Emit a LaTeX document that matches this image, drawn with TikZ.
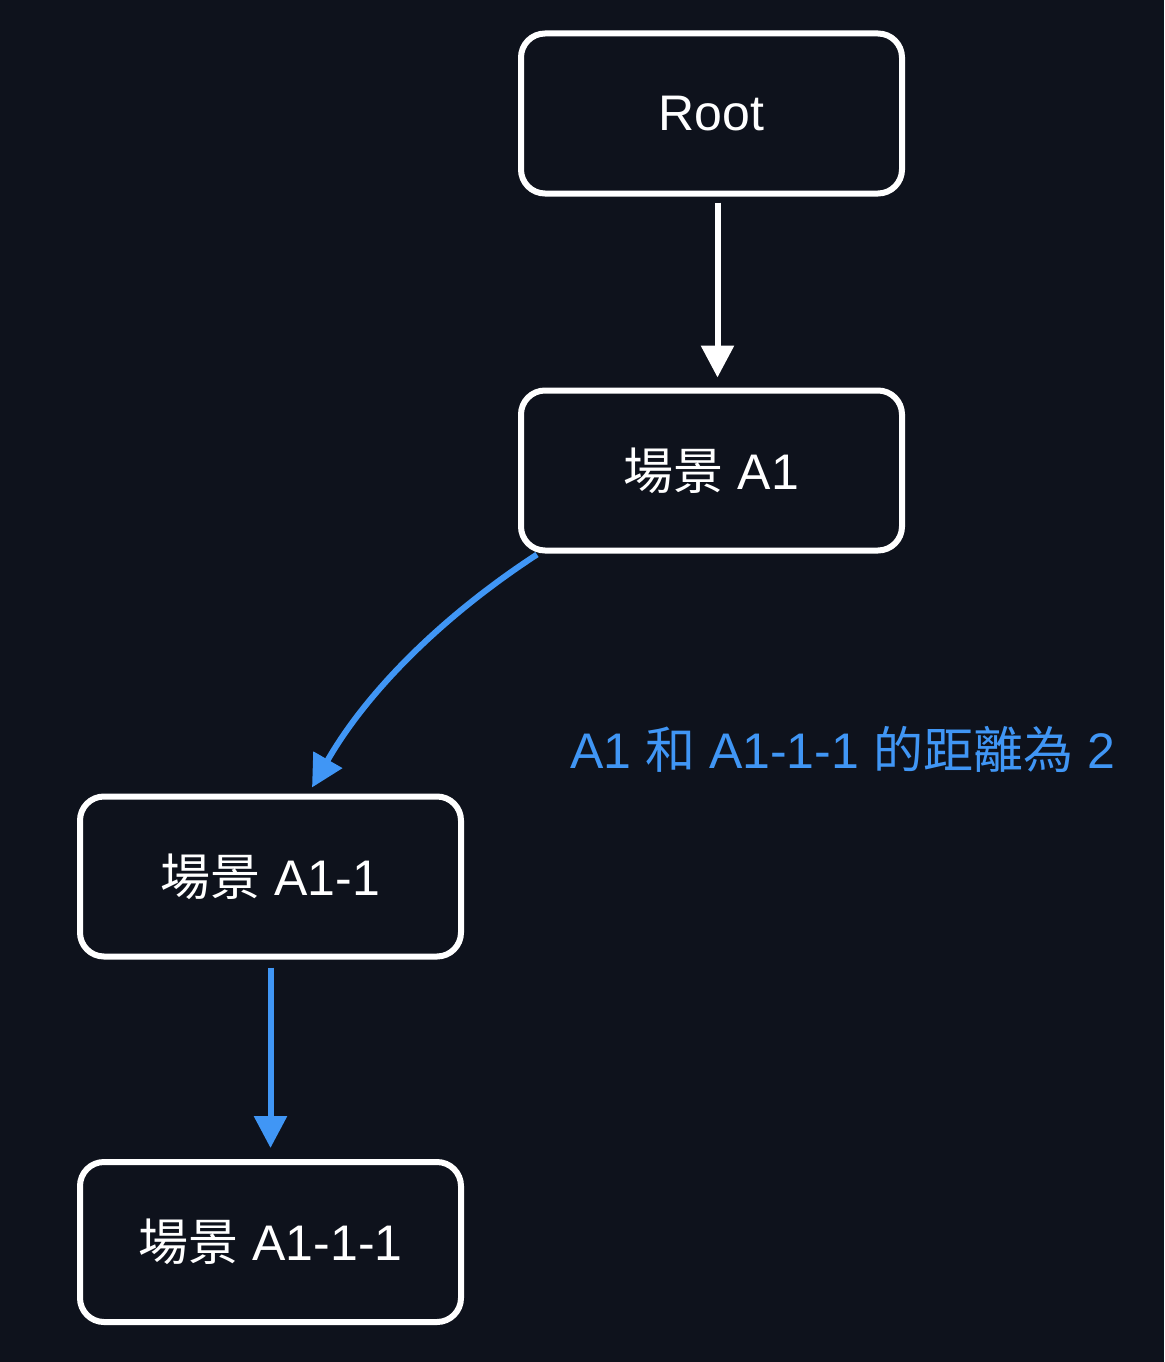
\documentclass[tikz,border=0pt]{standalone}
\usepackage{fontspec}
\setmainfont{Liberation Sans}
\newfontfamily\cjk{Noto Sans CJK TC}
\usetikzlibrary{arrows.meta,calc}
\definecolor{bgc}{RGB}{14,18,28}
\definecolor{accentblue}{RGB}{64,150,245}
\tikzset{
  scenebox/.style={draw=white, line width=6pt, rounded corners=24pt,
    minimum width=381pt, minimum height=160pt, inner sep=0pt,
    text=white, font=\fontsize{50}{60}\selectfont},
  whitearrow/.style={draw=white, line width=6pt,
    -{Triangle[length=32pt,width=32pt]}},
  bluearrow/.style={draw=accentblue, line width=6pt,
    -{Triangle[length=32pt,width=32pt]}},
  bluelabel/.style={text=accentblue, inner sep=0pt,
    font=\fontsize{50}{60}\selectfont}
}
\begin{document}
\begin{tikzpicture}[x=1pt,y=-1pt]
  \fill[bgc] (0,0) rectangle (1164,1362);
  \useasboundingbox (0,0) rectangle (1164,1362);
  \node[scenebox] (root) at (711.5,113.5) {Root};
  \node[scenebox] (a1) at (711.5,470.5) {{\cjk 場景} A1};
  \node[scenebox] (a11) at (270.5,876.5) {{\cjk 場景} A1-1};
  \node[scenebox] (a111) at (270.5,1242) {{\cjk 場景} A1-1-1};
  \node[bluelabel, anchor=base west] (lbl) at (570,768)
    {A1 {\cjk 和} A1-1-1 {\cjk 的距離為} 2};
  \draw[whitearrow, shorten <=6pt, shorten >=10pt]
    ([xshift=6pt]root.south) -- ([xshift=6pt]a1.north);
  \draw[bluearrow]
    ([xshift=19pt,yshift=-1pt]a1.south west) .. controls +(-95,62) and +(55,-96) ..
    ([xshift=41.5pt,yshift=6pt]a11.north);
  \draw[bluearrow, shorten <=8pt, shorten >=11pt]
    (a11.south) -- (a111.north);
\end{tikzpicture}
\end{document}
